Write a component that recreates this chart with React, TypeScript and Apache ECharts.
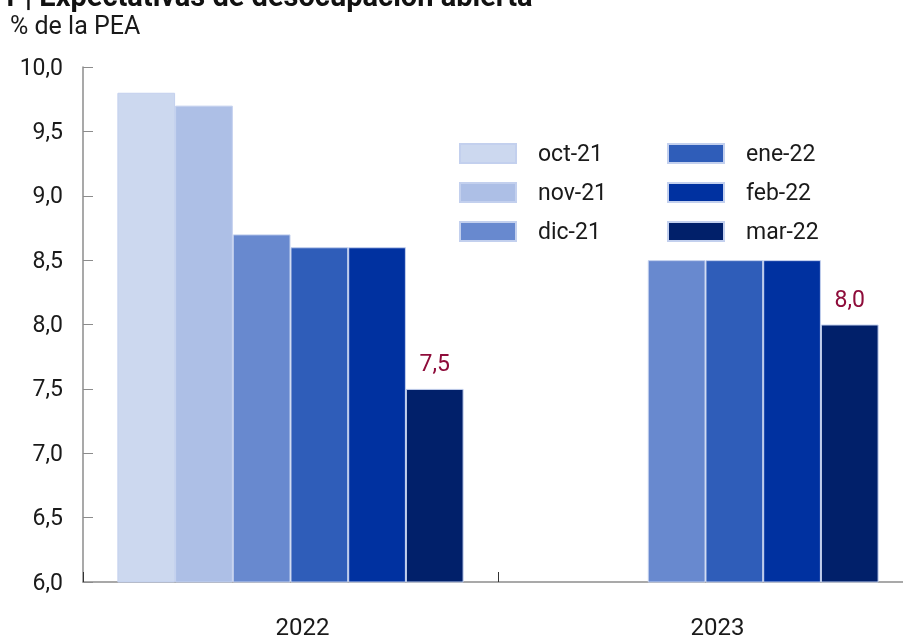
import { useEffect, useRef } from 'react';
import * as echarts from 'echarts';
import type { EChartsOption } from 'echarts';

const years = ['2022', '2023'];
const surveys = ['oct-21', 'nov-21', 'dic-21', 'ene-22', 'feb-22', 'mar-22'];
const octValues = [9.8, null];
const novValues = [9.7, null];
const dicValues = [8.7, 8.5];
const eneValues = [8.6, 8.5];
const febValues = [8.6, 8.5];
const marValues = [7.5, 8.0];
const yTicks = { min: 6, max: 10, interval: 0.5 };

const colors = ['#ccd8ef', '#adbfe6', '#6889cf', '#2f5db9', '#0031a0', '#01206a'];
const font = 'Roboto, "Noto Sans", sans-serif';
const fmt = (v: number) => v.toFixed(1).replace('.', ',');

export default function App() {
  const chartRef = useRef<HTMLDivElement>(null);

  useEffect(() => {
    if (!chartRef.current) return;
    document.body.style.margin = '0';
    document.body.style.overflow = 'hidden';
    document.documentElement.style.overflow = 'hidden';
    const chart = echarts.init(chartRef.current, null, { renderer: 'svg' });

    const seriesValues = [octValues, novValues, dicValues, eneValues, febValues, marValues];

    const legendBase = {
      orient: 'vertical' as const,
      top: 137,
      itemWidth: 56,
      itemHeight: 19,
      itemGap: 16,
      icon: 'rect',
      textStyle: {
        fontFamily: font,
        fontSize: 23,
        color: '#1a1a1a',
        padding: [0, 0, 0, 17],
      },
    };

    const option: EChartsOption = {
      animation: false,
      color: colors,
      textStyle: { fontFamily: font },
      title: {
        text: '1 | Expectativas de desocupación abierta',
        left: -4,
        top: -24,
        textStyle: { fontFamily: font, fontSize: 29, fontWeight: 'bold', color: '#111' },
      },
      graphic: [
        {
          type: 'text',
          left: 10,
          top: 13,
          style: { text: '% de la PEA', font: `25px ${font}`, fill: '#1a1a1a' },
        },
      ],
      legend: [
        { ...legendBase, left: 454, data: surveys.slice(0, 3) },
        { ...legendBase, left: 662, data: surveys.slice(3) },
      ],
      grid: { left: 83, top: 67, width: 830, height: 515, outerBoundsMode: 'none' } as any,
      xAxis: {
        type: 'category',
        data: years,
        axisLine: { lineStyle: { color: '#8c8c8c', width: 1.5 } },
        axisTick: { show: true, inside: true, length: 10, lineStyle: { color: '#333' } },
        axisLabel: {
          fontSize: 24,
          color: '#1a1a1a',
          margin: 33,
          fontFamily: font,
          padding: [0, 0, 0, 24],
        },
      },
      yAxis: {
        type: 'value',
        ...yTicks,
        axisLine: { show: true, lineStyle: { color: '#8c8c8c', width: 1.5 } },
        axisTick: { show: true, inside: true, length: 10, lineStyle: { color: '#8c8c8c' } },
        splitLine: { show: false },
        axisLabel: {
          fontSize: 23,
          color: '#1a1a1a',
          margin: 20,
          fontFamily: font,
          formatter: (v: number) => fmt(v),
        },
      },
      series: surveys.map((name, i) => ({
        name,
        type: 'bar',
        data: seriesValues[i],
        barWidth: 57.7,
        barGap: '0%',
        itemStyle: { borderColor: '#c3d0ee', borderWidth: 1 },
        label:
          i === surveys.length - 1
            ? {
                show: true,
                position: 'top',
                distance: 14,
                fontSize: 23,
                fontFamily: font,
                color: '#8e0c3a',
                formatter: (p: any) => fmt(p.value),
              }
            : { show: false },
      })),
    };

    chart.setOption(option);
    return () => chart.dispose();
  }, []);

  return (
    <div style={{ position: 'fixed', left: 0, top: 0, width: 903, height: 637, overflow: 'hidden' }}>
      <div ref={chartRef} style={{ width: 903, height: 637 }} />
    </div>
  );
}
